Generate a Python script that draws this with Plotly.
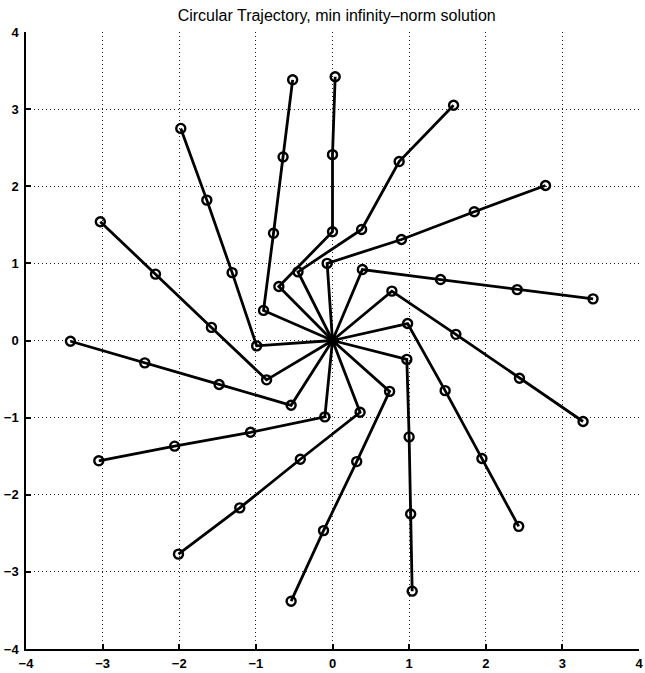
import plotly.graph_objects as go

# Joint positions of each 4-link arm configuration (base at the origin).
# Index k is the same arm pose across all the lists.
base_x = [0.0] * 14
base_y = [0.0] * 14
joint1_x = [-0.90, -0.70, -0.45, -0.07, 0.39, 0.775, 0.98, 0.97, 0.745, 0.36, -0.10, -0.54, -0.86, -0.99]
joint1_y = [0.39, 0.70, 0.89, 1.00, 0.92, 0.64, 0.22, -0.245, -0.66, -0.93, -0.99, -0.84, -0.51, -0.07]
joint2_x = [-0.77, 0.00, 0.38, 0.90, 1.41, 1.61, 1.47, 1.00, 0.316, -0.42, -1.07, -1.48, -1.58, -1.31]
joint2_y = [1.39, 1.41, 1.44, 1.31, 0.79, 0.08, -0.65, -1.25, -1.57, -1.54, -1.19, -0.57, 0.17, 0.88]
joint3_x = [-0.645, 0.00, 0.87, 1.85, 2.41, 2.44, 1.95, 1.02, -0.117, -1.21, -2.06, -2.45, -2.31, -1.64]
joint3_y = [2.38, 2.41, 2.32, 1.67, 0.66, -0.49, -1.53, -2.25, -2.465, -2.17, -1.37, -0.29, 0.86, 1.82]
tip_x = [-0.52, 0.035, 1.58, 2.78, 3.40, 3.27, 2.43, 1.04, -0.54, -2.01, -3.05, -3.42, -3.03, -1.98]
tip_y = [3.38, 3.42, 3.05, 2.01, 0.54, -1.05, -2.41, -3.25, -3.38, -2.77, -1.56, -0.01, 1.54, 2.75]

tick_vals = [-4, -3, -2, -1, 0, 1, 2, 3, 4]
title_text = "Circular Trajectory, min infinity\u2013norm solution"

fig = go.Figure()
for k in range(len(tip_x)):
    xs = [base_x[k], joint1_x[k], joint2_x[k], joint3_x[k], tip_x[k]]
    ys = [base_y[k], joint1_y[k], joint2_y[k], joint3_y[k], tip_y[k]]
    fig.add_trace(go.Scatter(
        x=xs, y=ys, mode="lines+markers",
        line=dict(color="black", width=2.8),
        marker=dict(symbol="circle-open", size=9, color="black",
                    line=dict(width=2.4, color="black")),
        showlegend=False, hoverinfo="x+y",
    ))

tick_font = dict(family="Liberation Sans, Arial, sans-serif", size=13, color="black",
                 weight="bold")

axis_common = dict(
    range=[-4, 4], tickmode="array", tickvals=tick_vals,
    showgrid=True, gridcolor="#222222", gridwidth=1, griddash="1px,3px",
    zeroline=False, showline=True, linecolor="black", linewidth=1.5,
    mirror=False, ticks="inside", ticklen=5, tickwidth=1.5, tickcolor="black",
    tickfont=tick_font, ticklabeloverflow="allow",
)

fig.update_layout(
    width=645, height=673,
    margin=dict(l=26, r=2, t=32, b=21),
    paper_bgcolor="white", plot_bgcolor="white",
    title=dict(text=title_text, x=0.522, xanchor="center",
               y=1 - 15 / 673, yanchor="middle", yref="container",
               font=dict(family="Liberation Sans, Arial, sans-serif", size=16, color="black")),
    xaxis=dict(**axis_common, ticklabelstandoff=2),
    yaxis=dict(**axis_common, ticklabelstandoff=3),
)

fig.write_html("out.html")
